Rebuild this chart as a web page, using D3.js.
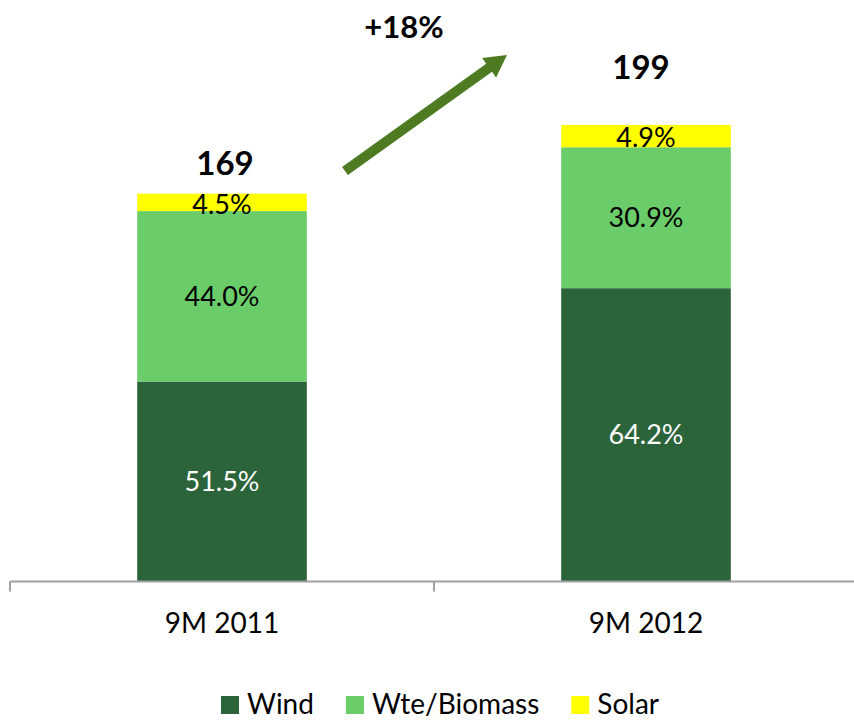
<!DOCTYPE html>
<html>
<head>
<meta charset="utf-8">
<script src="https://cdn.jsdelivr.net/npm/d3@7"></script>
<style>
  html, body { margin: 0; padding: 0; background: #fff; }
  svg { display: block; font-family: Lato, "Open Sans", sans-serif; }
</style>
</head>
<body>
<div id="chart"></div>
<script>
// Datos
const categories = ['9M 2011', '9M 2012'];
const totals = [169, 199];
const seriesNames = ['Wind', 'Wte/Biomass', 'Solar'];
const windPct = [51.5, 64.2];
const biomassPct = [44.0, 30.9];
const solarPct = [4.5, 4.9];
const growthLabel = '+18%';

const colors = ['#2b633a', '#6acd6a', '#ffff00'];
const labelColors = ['#ffffff', '#000000', '#000000'];

const width = 854, height = 721;

const svg = d3.select('#chart').append('svg')
    .attr('width', width)
    .attr('height', height);

// Escalas
const x = d3.scaleBand()
    .domain(categories)
    .range([10, 858])
    .paddingInner(0.6)
    .paddingOuter(0.3);

const y = d3.scaleLinear()
    .domain([0, 250])
    .range([581, 8]);

// Tabla para el apilado (valores absolutos a partir de los porcentajes)
const pcts = [windPct, biomassPct, solarPct];
const table = categories.map((c, i) => {
    const row = { cat: c, total: totals[i] };
    seriesNames.forEach((s, k) => { row[s] = totals[i] * pcts[k][i] / 100; row[s + '_pct'] = pcts[k][i]; });
    return row;
});

const stacked = d3.stack().keys(seriesNames)(table);

// Barras
const layers = svg.append('g')
    .selectAll('g')
    .data(stacked)
    .enter().append('g')
    .attr('fill', (d, i) => colors[i]);

layers.selectAll('rect')
    .data(d => d)
    .enter().append('rect')
    .attr('x', d => x(d.data.cat))
    .attr('width', x.bandwidth())
    .attr('y', d => y(d[1]))
    .attr('height', d => y(d[0]) - y(d[1]));

// Etiquetas de porcentaje
stacked.forEach((layer, k) => {
    svg.append('g')
        .selectAll('text')
        .data(layer)
        .enter().append('text')
        .attr('x', d => x(d.data.cat) + x.bandwidth() / 2)
        .attr('y', d => (y(d[0]) + y(d[1])) / 2 + (k === 2 ? 1.5 : 0))
        .attr('dy', '0.36em')
        .attr('text-anchor', 'middle')
        .attr('font-size', '27px')
        .attr('fill', labelColors[k])
        .text(d => d.data[layer.key + '_pct'].toFixed(1) + '%');
});

// Totales encima de las barras (colocados a mano como en el original)
const totalGap = [19, 46];
svg.append('g')
    .selectAll('text')
    .data(table)
    .enter().append('text')
    .attr('x', (d, i) => x(d.cat) + x.bandwidth() / 2 + (i === 0 ? 3 : -5))
    .attr('y', (d, i) => y(d.total) - totalGap[i])
    .attr('text-anchor', 'middle')
    .attr('font-size', '33px')
    .attr('font-weight', 'bold')
    .attr('fill', '#000')
    .text(d => d.total);

// Eje X
const axisY = y(0) + 0.5;
const axis = svg.append('g').attr('stroke', '#a0a0a0').attr('stroke-width', 2);
axis.append('line')
    .attr('x1', x.range()[0]).attr('x2', x.range()[1])
    .attr('y1', axisY).attr('y2', axisY);

const bounds = [x.range()[0], (x(categories[0]) + x(categories[1]) + x.bandwidth()) / 2, x.range()[1]];
axis.selectAll('line.tick')
    .data(bounds)
    .enter().append('line')
    .attr('class', 'tick')
    .attr('x1', d => d).attr('x2', d => d)
    .attr('y1', axisY).attr('y2', axisY + 10);

svg.append('g')
    .selectAll('text')
    .data(categories)
    .enter().append('text')
    .attr('x', d => x(d) + x.bandwidth() / 2)
    .attr('y', 633)
    .attr('text-anchor', 'middle')
    .attr('font-size', '28px')
    .attr('fill', '#000')
    .text(d => d);

// Flecha de crecimiento
const a0 = [345, 171], a1 = [507, 55];
const shaftW = 10, headW = 24, headL = 22;
const dx = a1[0] - a0[0], dy = a1[1] - a0[1];
const len = Math.hypot(dx, dy);
const ux = dx / len, uy = dy / len, px = -uy, py = ux;
const hb = [a1[0] - ux * headL, a1[1] - uy * headL];
const pts = [
    [a0[0] + px * shaftW / 2, a0[1] + py * shaftW / 2],
    [hb[0] + px * shaftW / 2, hb[1] + py * shaftW / 2],
    [hb[0] + px * headW / 2, hb[1] + py * headW / 2],
    a1,
    [hb[0] - px * headW / 2, hb[1] - py * headW / 2],
    [hb[0] - px * shaftW / 2, hb[1] - py * shaftW / 2],
    [a0[0] - px * shaftW / 2, a0[1] - py * shaftW / 2]
];
svg.append('path')
    .attr('d', d3.line()(pts) + 'Z')
    .attr('fill', '#4e7a22');

svg.append('text')
    .attr('x', 404)
    .attr('y', 38)
    .attr('text-anchor', 'middle')
    .attr('font-size', '31px')
    .attr('font-weight', 'bold')
    .attr('fill', '#000')
    .text(growthLabel);

// Leyenda
const legend = svg.append('g');
const items = legend.selectAll('g')
    .data(seriesNames)
    .enter().append('g');
items.append('rect')
    .attr('width', 18).attr('height', 18)
    .attr('y', 696)
    .attr('fill', (d, i) => colors[i]);
items.append('text')
    .attr('x', 26)
    .attr('y', 714)
    .attr('font-size', '28px')
    .attr('fill', '#000')
    .text(d => d);

let cx = 0;
const offsets = [];
items.each(function () {
    offsets.push(cx);
    const w = d3.select(this).select('text').node().getComputedTextLength();
    cx += 26 + w + 32;
});
const legendW = cx - 32;
const legendStart = 440 - legendW / 2;
items.attr('transform', (d, i) => `translate(${legendStart + offsets[i]},0)`);
</script>
</body>
</html>
